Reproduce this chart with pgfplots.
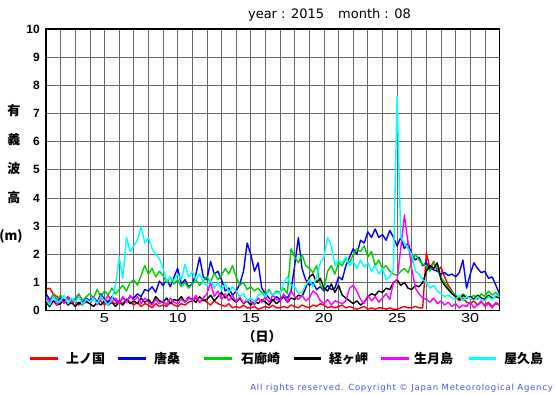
\documentclass[border=0pt]{standalone}
\usepackage{pgfplots}
\pgfplotsset{compat=1.18}
\usepackage{pgfplotstable}
\usepackage{fontspec}
\setmainfont{Liberation Sans}
\newfontfamily\dejavu{DejaVu Sans}
\newfontfamily\dejavuls{DejaVu Sans}[LetterSpace=9]
\newfontfamily\wide{Liberation Sans}[FakeStretch=1.25]
\newfontfamily\jp{Noto Sans CJK JP}
\definecolor{cred}{HTML}{FF0000}
\definecolor{cblue}{HTML}{0000FF}
\definecolor{cgreen}{HTML}{00D000}
\definecolor{cblack}{HTML}{000000}
\definecolor{cmag}{HTML}{FF00FF}
\definecolor{ccyan}{HTML}{00FFFF}
\definecolor{ccopy}{HTML}{5050F0}

\pgfplotstableread{
d r b g k m c
1.00 0.75 0.6 0.5 0.3 0.45 0.4
1.25 0.8 0.4 0.3 0.15 0.3 0.2
1.50 0.6 0.5 0.6 0.35 0.55 0.5
1.75 0.5 0.3 0.4 0.2 0.2 0.3
2.00 0.4 0.45 0.55 0.25 0.4 0.35
2.25 0.3 0.3 0.35 0.4 0.25 0.55
2.50 0.45 0.5 0.5 0.2 0.5 0.25
2.75 0.25 0.35 0.3 0.3 0.3 0.45
3.00 0.35 0.4 0.45 0.15 0.35 0.3
3.25 0.2 0.55 0.6 0.3 0.55 0.5
3.50 0.4 0.3 0.35 0.2 0.25 0.2
3.75 0.3 0.45 0.5 0.35 0.4 0.4
4.00 0.25 0.35 0.6 0.25 0.3 0.3
4.25 0.45 0.5 0.45 0.15 0.5 0.45
4.50 0.3 0.3 0.75 0.3 0.2 0.25
4.75 0.35 0.6 0.5 0.2 0.45 0.5
5.00 0.2 0.4 0.7 0.35 0.35 0.35
5.25 0.35 0.3 0.55 0.2 0.55 0.2
5.50 0.3 0.5 0.8 0.3 0.3 0.4
5.75 0.25 0.35 0.6 0.15 0.45 0.9
6.00 0.35 0.3 0.75 0.3 0.25 1.9
6.25 0.25 0.45 0.9 0.2 0.5 1.15
6.50 0.4 0.35 0.7 0.4 0.3 2.6
6.75 0.3 0.5 1.0 0.25 0.55 2.1
7.00 0.2 0.45 1.1 0.35 0.35 2.3
7.25 0.3 0.6 0.9 0.25 0.5 2.5
7.50 0.15 0.5 1.25 0.45 0.25 3.0
7.75 0.25 0.75 1.6 0.3 0.45 2.4
8.00 0.2 0.7 1.3 0.4 0.3 2.6
8.25 0.1 0.85 1.5 0.25 0.2 2.2
8.50 0.25 0.65 1.2 0.5 0.4 2.0
8.75 0.15 1.05 1.4 0.35 0.25 1.85
9.00 0.2 0.9 1.25 0.3 0.35 1.5
9.25 0.15 1.1 1.0 0.45 0.2 1.05
9.50 0.3 0.85 1.2 0.25 0.45 1.2
9.75 0.2 1.2 0.95 0.4 0.3 1.05
10.00 0.15 1.5 1.1 0.35 0.25 1.3
10.25 0.25 0.95 0.85 0.5 0.4 1.1
10.50 0.2 1.1 1.0 0.3 0.3 1.65
10.75 0.3 0.85 0.8 0.45 0.5 1.2
11.00 0.35 0.95 0.95 0.4 0.35 1.4
11.25 0.45 1.3 1.1 0.3 0.55 1.1
11.50 0.3 1.9 0.9 0.5 0.3 1.3
11.75 0.4 1.2 1.05 0.35 0.45 1.0
12.00 0.3 1.1 1.2 0.4 0.6 0.9
12.25 0.2 1.75 1.0 0.55 1.0 1.1
12.50 0.35 1.3 1.35 0.35 0.5 0.8
12.75 0.25 1.4 1.1 0.5 0.7 1.0
13.00 0.2 1.1 1.25 0.65 0.4 0.75
13.25 0.15 0.7 1.5 0.45 0.6 0.95
13.50 0.25 0.8 1.3 0.6 0.35 0.65
13.75 0.1 0.55 1.6 0.4 0.55 0.85
14.00 0.15 0.7 1.2 0.3 0.3 0.7
14.25 0.1 0.95 0.9 0.45 0.5 0.5
14.50 0.2 1.4 1.0 0.25 0.25 0.6
14.75 0.1 2.4 0.75 0.35 0.4 0.35
15.00 0.1 2.0 0.85 0.2 0.35 0.45
15.25 0.15 1.4 0.7 0.35 0.2 0.3
15.50 0.05 1.7 0.8 0.25 0.45 0.55
15.75 0.1 0.8 0.65 0.4 0.3 0.6
16.00 0.15 0.6 0.6 0.3 0.5 0.5
16.25 0.1 0.45 0.75 0.2 0.3 0.7
16.50 0.2 0.35 0.55 0.4 0.55 0.55
16.75 0.1 0.5 0.7 0.25 0.4 0.65
17.00 0.1 0.4 0.65 0.35 0.35 0.6
17.25 0.15 0.55 0.8 0.5 0.6 1.0
17.50 0.1 0.45 0.6 0.3 0.3 1.2
17.75 0.2 0.7 2.2 0.45 0.7 0.9
18.00 0.15 1.6 1.9 0.4 0.5 0.85
18.25 0.1 2.6 1.7 0.55 0.4 0.6
18.50 0.2 1.5 2.0 0.5 0.55 0.65
18.75 0.15 1.1 1.6 0.8 0.35 0.9
19.00 0.1 0.9 1.5 1.2 0.45 1.1
19.25 0.2 1.0 1.35 1.3 0.7 0.85
19.50 0.15 0.75 1.6 1.0 0.6 1.2
19.75 0.25 0.85 0.9 1.15 0.35 1.7
20.00 0.2 0.7 0.75 0.8 0.25 1.9
20.25 0.1 0.9 1.4 0.7 0.4 2.6
20.50 0.15 0.75 1.6 0.95 0.2 2.3
20.75 0.1 0.8 1.3 0.65 0.35 1.6
21.00 0.15 1.2 1.7 0.9 0.3 1.8
21.25 0.2 1.1 1.6 0.55 0.25 1.7
21.50 0.1 1.6 1.85 0.45 0.35 1.9
21.75 0.15 1.9 1.7 0.35 0.8 1.6
22.00 0.1 2.2 2.0 0.25 0.9 1.75
22.25 0.05 2.0 2.2 0.35 0.7 1.5
22.50 0.1 2.5 2.1 0.2 0.4 1.8
22.75 0.15 2.4 2.3 0.3 0.25 1.55
23.00 0.05 2.8 1.9 0.5 0.55 1.7
23.25 0.1 2.6 2.1 0.6 0.35 1.4
23.50 0.05 2.9 1.6 0.55 0.5 1.6
23.75 0.1 2.6 1.8 0.7 0.3 1.3
24.00 0.1 2.7 1.5 0.65 0.45 1.5
24.25 0.05 2.5 1.6 0.8 0.6 1.1
24.50 0.1 2.85 1.4 0.75 0.4 1.2
24.75 0.05 2.6 1.3 1.0 1.0 1.5
25.00 0.05 2.3 1.25 1.1 1.1 7.6
25.25 0.1 2.6 1.4 0.9 2.2 2.6
25.50 0.15 2.2 1.5 1.0 3.4 2.4
25.75 0.1 2.4 1.35 0.8 2.4 2.2
26.00 0.1 2.0 1.7 0.75 1.5 2.0
26.25 0.15 1.8 2.0 0.9 0.8 1.4
26.50 0.1 1.9 1.8 0.85 0.6 1.3
26.75 0.1 1.6 1.65 1.0 0.45 1.1
27.00 2.05 1.7 1.6 1.4 0.4 1.0
27.25 1.5 1.5 1.4 1.6 0.3 0.8
27.50 1.75 1.45 1.7 1.5 0.45 0.9
27.75 1.4 1.4 1.5 1.7 0.25 0.7
28.00 1.55 1.3 1.2 1.1 0.35 0.6
28.25 1.2 1.35 1.0 0.9 0.2 0.5
28.50 0.9 1.25 0.8 0.75 0.3 0.55
28.75 0.7 1.3 0.65 0.6 0.15 0.45
29.00 0.5 1.2 0.55 0.5 0.25 0.4
29.25 0.35 1.35 0.45 0.4 0.1 0.55
29.50 0.45 1.8 0.6 0.55 0.2 0.35
29.75 0.3 0.8 0.5 0.45 0.15 0.5
30.00 0.25 1.3 0.45 0.5 0.3 0.45
30.25 0.35 1.7 0.55 0.4 0.1 0.35
30.50 0.2 1.5 0.4 0.55 0.2 0.5
30.75 0.3 1.35 0.6 0.45 0.35 0.4
31.00 0.2 1.4 0.5 0.4 0.15 0.35
31.25 0.3 1.15 0.7 0.55 0.25 0.5
31.50 0.15 1.2 0.55 0.45 0.1 0.4
31.75 0.25 0.9 0.65 0.5 0.3 0.55
32.00 0.2 0.6 0.5 0.45 0.2 0.5
}\wave

\begin{document}
\begin{tikzpicture}
\useasboundingbox (0pt,0pt) rectangle (555pt,395pt);
\begin{axis}[
  at={(46pt,84.3pt)}, anchor=south west,
  scale only axis, width=453.5pt, height=281.7pt,
  xmin=1, xmax=32, ymin=0, ymax=10,
  xtick={5,10,...,30}, ytick={0,1,...,10},
  minor xtick={1,2,...,32},
  grid=both,
  major grid style={black!60, line width=0.7pt},
  minor grid style={black!60, line width=0.7pt},
  major tick length=0pt, minor tick length=0pt,
  axis line style={black, line width=1.3pt},
  /pgf/number format/assume math mode=true,
  yticklabel style={font=\bfseries\fontsize{12}{12}\selectfont, anchor=east, inner sep=0pt, xshift=-6pt},
  xticklabel style={font=\wide\fontsize{13}{13}\selectfont, anchor=north, inner sep=0pt, yshift=-3pt},
  every axis plot/.append style={line width=1.4pt, line join=round},
]
\addplot[cred, no markers] table[x=d, y=r] {\wave};
\addplot[cblue, no markers] table[x=d, y=b] {\wave};
\addplot[cgreen, no markers] table[x=d, y=g] {\wave};
\addplot[cblack, no markers] table[x=d, y=k] {\wave};
\addplot[cmag, no markers] table[x=d, y=m] {\wave};
\addplot[ccyan, no markers] table[x=d, y=c] {\wave};
\end{axis}
% title
\node[font=\dejavu\fontsize{13}{13}\selectfont, inner sep=0pt] at (329.5pt,380pt) {year : 2015\hspace{14pt}month : 08};
% y label
\begin{scope}[every node/.style={font=\jp\bfseries\fontsize{13}{13}\selectfont, inner sep=0pt}]
\node at (14pt,284pt) {有};
\node at (14pt,255pt) {義};
\node at (14pt,226pt) {波};
\node at (14pt,197pt) {高};
\node at (11pt,159pt) {(m)};
\node at (262pt,58pt) {（日）};
\end{scope}
% legend
\begin{scope}[every node/.style={font=\jp\bfseries\fontsize{13}{13}\selectfont, inner sep=0pt, anchor=west}]
\draw[cred, line width=3pt] (30pt,36pt) -- (58pt,36pt);
\node at (66pt,36pt) {上ノ国};
\draw[cblue, line width=3pt] (118pt,36pt) -- (146pt,36pt);
\node at (154pt,36pt) {唐桑};
\draw[cgreen, line width=3pt] (204pt,36pt) -- (232pt,36pt);
\node at (241pt,36pt) {石廊崎};
\draw[cblack, line width=3pt] (294pt,36pt) -- (321pt,36pt);
\node at (329pt,36pt) {経ヶ岬};
\draw[cmag, line width=3pt] (381pt,36pt) -- (409pt,36pt);
\node at (414pt,36pt) {生月島};
\draw[ccyan, line width=3pt] (469pt,36pt) -- (496pt,36pt);
\node at (504pt,36pt) {屋久島};
\end{scope}
\node[font=\dejavuls\fontsize{8.5}{8.5}\selectfont, text=ccopy, inner sep=0pt, anchor=east] at (553pt,7pt) {All rights reserved. Copyright \copyright{} Japan Meteorological Agency};
\end{tikzpicture}
\end{document}
